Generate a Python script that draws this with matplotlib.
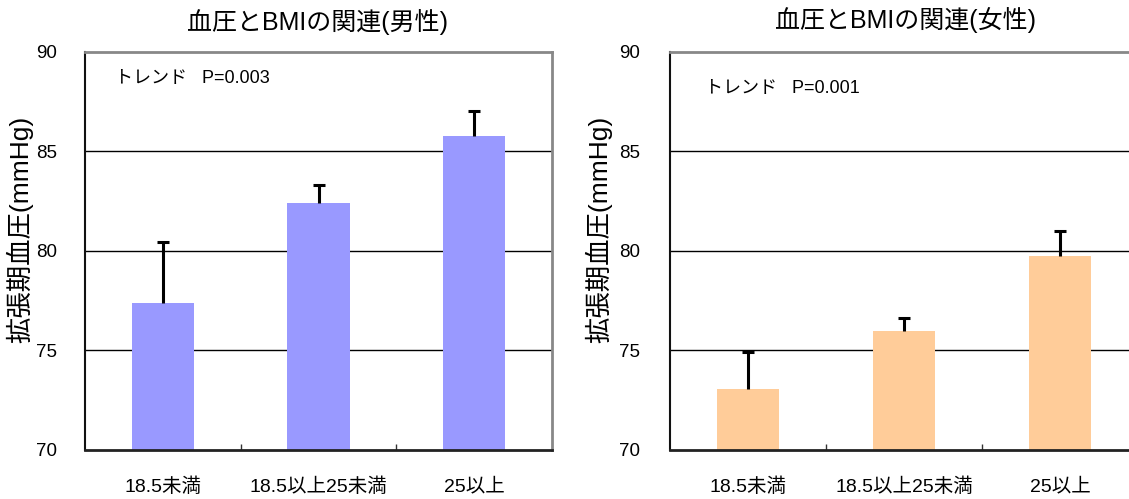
import matplotlib
matplotlib.use("Agg")
import matplotlib.pyplot as plt
import numpy as np

categories = ["18.5未満", "18.5以上25未満", "25以上"]
male_mean = [77.4, 82.4, 85.8]
male_err = [3.05, 0.9, 1.25]
female_mean = [73.05, 76.0, 79.75]
female_err = [1.85, 0.65, 1.25]
titles = ["血圧とBMIの関連(男性)", "血圧とBMIの関連(女性)"]
trend_texts = ["トレンド   P=0.003", "トレンド   P=0.001"]
ylabel = "拡張期血圧(mmHg)"
yticks = [70, 75, 80, 85, 90]

FAM = ["Liberation Sans", "Noto Sans CJK JP", "DejaVu Sans"]
plt.rcParams['font.family'] = FAM

fig = plt.figure(figsize=(11.29, 4.99), dpi=100)
W, H = 1129, 499

def make_axes(left_px, right_px):
    return fig.add_axes([left_px / W, (H - 450) / H, (right_px - left_px) / W, (450 - 52) / H])

axL = make_axes(85, 552)
axR = make_axes(670, 1138)

panels = [
    (axL, male_mean, male_err, "#9999FF", titles[0], trend_texts[0], (0.065, 0.955), 318, 22, 20, 33),
    (axR, female_mean, female_err, "#FFCC99", titles[1], trend_texts[1], (0.075, 0.93), 905, 20, 21.5, 612),
]

for ax, means, errs, color, title, ttxt, tpos, tx, ty, ypad, ylx in panels:
    x = np.arange(len(categories))
    ax.set_xlim(-0.5, len(categories) - 0.5)
    ax.set_ylim(70, 90)
    for yv in [75, 80, 85]:
        ax.axhline(yv, color="black", lw=1.0, zorder=1)
    ax.bar(x, means, width=0.4, color=color, zorder=2)
    _, caps, _ = ax.errorbar(x, means, yerr=[np.zeros(len(errs)), errs], fmt="none",
                             ecolor="black", elinewidth=2.2, capsize=4.5, capthick=2.2, zorder=3)
    if len(caps) == 2:
        caps[0].set_visible(False)
    ax.set_yticks(yticks)
    ax.set_yticklabels([str(v) for v in yticks], fontsize=13.5)
    ax.tick_params(axis="y", length=0, pad=ypad)
    ax.set_xticks(x)
    ax.set_xticklabels(categories, fontsize=14)
    ax.tick_params(axis="x", which="major", length=0, pad=20)
    ax.set_xticks([0.5, 1.5], minor=True)
    ax.tick_params(axis="x", which="minor", direction="in", length=4, width=1, color="#333333")
    ax.set_ylabel(ylabel, fontsize=19)
    pos = ax.get_position()
    ax.yaxis.set_label_coords((ylx - pos.x0 * W) / (pos.width * W), (450 - 229) / 398)
    for s in ["top", "right"]:
        ax.spines[s].set_color("#888888")
        ax.spines[s].set_linewidth(2)
    ax.spines["left"].set_color("#111111")
    ax.spines["left"].set_linewidth(1.5)
    ax.spines["bottom"].set_color("#222222")
    ax.spines["bottom"].set_linewidth(2)
    ax.text(tpos[0], tpos[1], ttxt, transform=ax.transAxes, fontsize=13, va="top", ha="left")
    fig.text(tx / W, 1 - ty / H, title, fontsize=18, ha="center", va="center")

fig.savefig("out.png", dpi=100)
